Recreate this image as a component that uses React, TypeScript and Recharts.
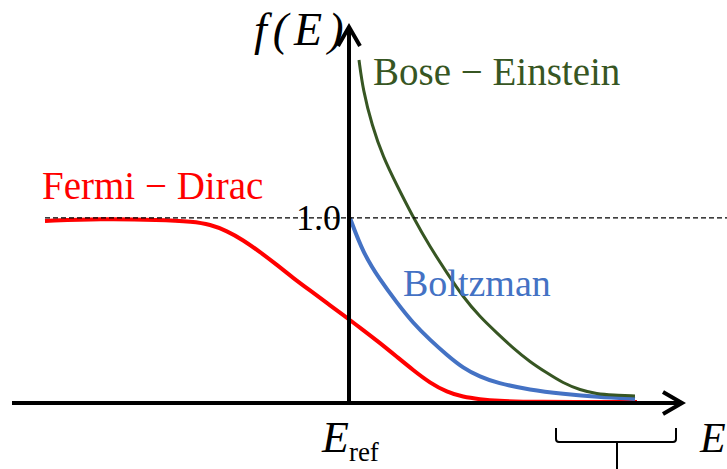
import { LineChart, Line, XAxis, YAxis, ReferenceLine, ReferenceDot } from "recharts";

// energy measured from E_ref, occupation f(E)
const fermiDirac = [
  { e: -3.04, f: 0.984 }, { e: -2.49, f: 0.995 }, { e: -1.89, f: 0.99 },
  { e: -1.56, f: 0.98 }, { e: -1.39, f: 0.965 }, { e: -1.22, f: 0.93 },
  { e: -1.06, f: 0.881 }, { e: -0.89, f: 0.816 }, { e: -0.72, f: 0.746 },
  { e: -0.56, f: 0.676 }, { e: -0.39, f: 0.608 }, { e: -0.22, f: 0.54 },
  { e: -0.06, f: 0.476 }, { e: 0.14, f: 0.395 }, { e: 0.31, f: 0.324 },
  { e: 0.48, f: 0.249 }, { e: 0.64, f: 0.178 }, { e: 0.81, f: 0.108 },
  { e: 0.98, f: 0.059 }, { e: 1.14, f: 0.032 }, { e: 1.31, f: 0.02 },
  { e: 1.48, f: 0.011 }, { e: 1.81, f: 0.005 }, { e: 2.88, f: 0.005 },
];

const boltzmann = [
  { e: 0.01, f: 1.0 }, { e: 0.14, f: 0.811 }, { e: 0.31, f: 0.665 },
  { e: 0.48, f: 0.541 }, { e: 0.64, f: 0.432 }, { e: 0.81, f: 0.341 },
  { e: 0.98, f: 0.259 }, { e: 1.14, f: 0.189 }, { e: 1.31, f: 0.141 },
  { e: 1.48, f: 0.108 }, { e: 1.81, f: 0.07 }, { e: 2.14, f: 0.049 },
  { e: 2.48, f: 0.032 }, { e: 2.86, f: 0.022 },
];

const boseEinstein = [
  { e: 0.1, f: 1.854 }, { e: 0.14, f: 1.692 }, { e: 0.23, f: 1.5 },
  { e: 0.34, f: 1.33 }, { e: 0.48, f: 1.175 }, { e: 0.64, f: 1.005 },
  { e: 0.81, f: 0.843 }, { e: 0.98, f: 0.703 }, { e: 1.14, f: 0.573 },
  { e: 1.31, f: 0.465 }, { e: 1.48, f: 0.378 }, { e: 1.64, f: 0.297 },
  { e: 1.81, f: 0.222 }, { e: 1.98, f: 0.162 }, { e: 2.14, f: 0.108 },
  { e: 2.31, f: 0.07 }, { e: 2.48, f: 0.049 }, { e: 2.64, f: 0.043 },
  { e: 2.86, f: 0.038 },
];

const SERIF = "'Liberation Serif', 'Times New Roman', serif";

const Chevron = ({ cx, cy, dir }: any) => {
  const d =
    dir === "right"
      ? `M${cx - 19},${cy - 11} L${cx},${cy} L${cx - 19},${cy + 11}`
      : `M${cx - 11},${cy + 19} L${cx},${cy} L${cx + 11},${cy + 19}`;
  return <path d={d} fill="none" stroke="#000" strokeWidth={4} />;
};

const Brace = ({ cx, cy }: any) => (
  <g fill="none" stroke="#000" strokeWidth={2}>
    <path
      d={`M${cx - 61},${cy - 14} L${cx - 61},${cy - 3} Q${cx - 61},${cy} ${cx - 58},${cy} L${cx + 56},${cy} Q${cx + 59},${cy} ${cx + 59},${cy - 3} L${cx + 59},${cy - 14}`}
    />
    <path d={`M${cx},${cy} L${cx},${cy + 30}`} />
  </g>
);

const Txt =
  (content: any, color: string, size: number, anchor = "start", italic = false, spacing = 0) =>
  ({ cx, cy }: any) => (
    <text
      x={cx}
      y={cy}
      fill={color}
      fontSize={size}
      fontFamily={SERIF}
      fontStyle={italic ? "italic" : "normal"}
      textAnchor={anchor}
      letterSpacing={spacing}
    >
      {content}
    </text>
  );

const curve = {
  type: "basis" as const,
  dot: false,
  activeDot: false,
  strokeLinecap: "butt" as const,
  isAnimationActive: false,
};

export default function App() {
  return (
    <div style={{ width: 727, height: 469, background: "#fff" }}>
      <style>{"body{margin:0}"}</style>
      <LineChart width={727} height={469} margin={{ top: 0, right: 0, bottom: 0, left: 0 }}>
        <XAxis type="number" dataKey="e" domain={[-3.49, 3.78]} allowDataOverflow hide />
        <YAxis type="number" dataKey="f" domain={[-0.357, 2.178]} allowDataOverflow hide />

        <Line data={fermiDirac} dataKey="f" stroke="#ff0000" strokeWidth={4} {...curve} />
        <Line data={boltzmann} dataKey="f" stroke="#4472c4" strokeWidth={4} {...curve} />
        <Line data={boseEinstein} dataKey="f" stroke="#375623" strokeWidth={3} {...curve} />

        {/* f = 1 guide */}
        <ReferenceLine segment={[{ x: -3.04, y: 1 }, { x: 3.78, y: 1 }]} stroke="#000" strokeWidth={1.3} strokeDasharray="5 3" />

        {/* axes */}
        <ReferenceLine segment={[{ x: -3.37, y: 0 }, { x: 3.31, y: 0 }]} stroke="#000" strokeWidth={4} />
        <ReferenceLine segment={[{ x: 0, y: 0 }, { x: 0, y: 2.02 }]} stroke="#000" strokeWidth={4} />
        <ReferenceDot x={3.33} y={0} shape={(p: any) => <Chevron {...p} dir="right" />} />
        <ReferenceDot x={0} y={2.032} shape={(p: any) => <Chevron {...p} dir="up" />} />
        <ReferenceDot x={2.68} y={-0.211} shape={(p: any) => <Brace {...p} />} />

        {/* labels */}
        <ReferenceDot x={-0.95} y={1.935} shape={Txt("f(E)", "#000", 46, "start", true, 6)} />
        <ReferenceDot x={0.24} y={1.719} shape={Txt("Bose − Einstein", "#375623", 39)} />
        <ReferenceDot x={-3.07} y={1.103} shape={Txt("Fermi − Dirac", "#ff0000", 39)} />
        <ReferenceDot x={0.54} y={0.578} shape={Txt("Boltzman", "#4472c4", 38)} />
        <ReferenceDot x={-0.08} y={0.935} shape={Txt("1.0", "#000", 36, "end")} />
        <ReferenceDot
          x={-0.27}
          y={-0.265}
          shape={Txt(
            <>
              <tspan fontStyle="italic">E</tspan>
              <tspan fontSize={27} dy={9}>ref</tspan>
            </>,
            "#000",
            44
          )}
        />
        <ReferenceDot x={3.51} y={-0.265} shape={Txt("E", "#000", 42, "start", true)} />
      </LineChart>
    </div>
  );
}
